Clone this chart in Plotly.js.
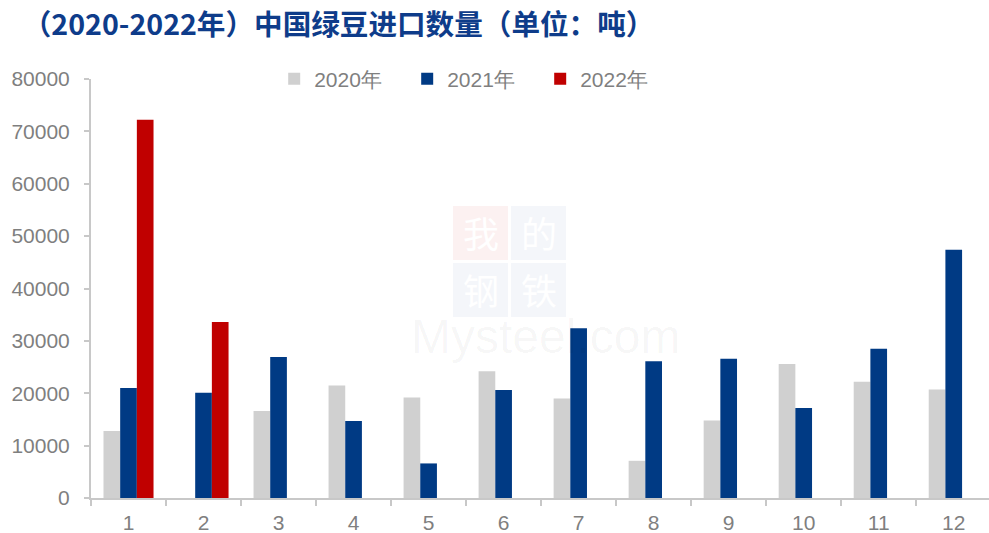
<!DOCTYPE html>
<html>
<head>
<meta charset="utf-8">
<script src="https://cdn.plot.ly/plotly-3.0.1.min.js"></script>
<style>
  html, body { margin: 0; padding: 0; background: #fff; }
  #chart { width: 989px; height: 533px; }
</style>
</head>
<body>
<div id="chart"></div>
<script>
var months = ['1', '2', '3', '4', '5', '6', '7', '8', '9', '10', '11', '12'];
var y2020 = [12800, null, 16600, 21500, 19200, 24200, 19000, 7100, 14800, 25600, 22200, 20700];
var y2021 = [21000, 20100, 26900, 14700, 6600, 20600, 32400, 26100, 26600, 17200, 28500, 47400];
var y2022 = [72200, 33600, null, null, null, null, null, null, null, null, null, null];
var yTicks = [0, 10000, 20000, 30000, 40000, 50000, 60000, 70000, 80000];

var trace2020 = {
    x: months,
    y: y2020,
    type: 'bar',
    name: '2020年',
    marker: { color: '#d0d0d0' }
};
var trace2021 = {
    x: months,
    y: y2021,
    type: 'bar',
    name: '2021年',
    marker: { color: '#003a84' }
};
var trace2022 = {
    x: months,
    y: y2022,
    type: 'bar',
    name: '2022年',
    marker: { color: '#c00000' }
};

var tickFont = { family: 'Liberation Sans, Arial, sans-serif', size: 21, color: '#7f7f7f' };

// watermark helpers (pixel -> paper)
function px(x) { return (x - 91) / 898; }
function py(y) { return (498 - y) / 419; }

function tile(x0, y0, fill) {
    return {
        type: 'rect', layer: 'below',
        xref: 'paper', yref: 'paper',
        x0: px(x0), x1: px(x0 + 55), y0: py(y0 + 54), y1: py(y0),
        line: { width: 0 }, fillcolor: fill
    };
}
function tileText(ch, x0, y0) {
    return {
        text: ch, xref: 'paper', yref: 'paper',
        x: px(x0 + 27.5), y: py(y0 + 26),
        showarrow: false,
        font: { family: 'Noto Sans CJK SC, sans-serif', size: 36, color: '#ffffff' }
    };
}

var layout = {
    width: 989,
    height: 533,
    margin: { l: 91, r: 0, t: 79, b: 35 },
    paper_bgcolor: '#ffffff',
    plot_bgcolor: '#ffffff',
    barmode: 'group',
    bargap: 0.333,
    bargroupgap: 0,
    title: {
        text: '（2020-2022年）中国绿豆进口数量（单位：吨）',
        font: { family: 'Noto Sans CJK SC, sans-serif', size: 28.6, color: '#0e3c8a', weight: 700 },
        xref: 'container',
        yref: 'container',
        x: 0.023,
        xanchor: 'left',
        y: 1 - 25 / 533,
        yanchor: 'middle'
    },
    showlegend: true,
    legend: {
        orientation: 'h',
        x: 0.204,
        xanchor: 'left',
        y: 1.0,
        yanchor: 'middle',
        font: tickFont,
        entrywidth: 88,
        entrywidthmode: 'pixels',
        bgcolor: 'rgba(0,0,0,0)'
    },
    xaxis: {
        type: 'category',
        range: [-0.5, 11.47],
        showline: true,
        linecolor: '#c8c8c8',
        linewidth: 2,
        ticks: 'outside',
        tickson: 'boundaries',
        ticklen: 6,
        tickcolor: '#c8c8c8',
        tickwidth: 2,
        showgrid: false,
        zeroline: false,
        tickfont: tickFont,
        ticklabelstandoff: 5,
        fixedrange: true
    },
    yaxis: {
        range: [0, 80000],
        tickvals: yTicks,
        ticktext: yTicks.map(String),
        showline: true,
        linecolor: '#c8c8c8',
        linewidth: 2,
        ticks: 'outside',
        ticklen: 5,
        tickcolor: '#c8c8c8',
        tickwidth: 2,
        showgrid: false,
        zeroline: false,
        tickfont: tickFont,
        ticklabelstandoff: 10,
        fixedrange: true
    },
    shapes: [
        tile(453, 206, '#fcf1f1'),
        tile(511, 206, '#f4f6fa'),
        tile(453, 263, '#f4f6fa'),
        tile(511, 263, '#f4f6fa')
    ],
    annotations: [
        tileText('我', 453, 206),
        tileText('的', 511, 206),
        tileText('钢', 453, 263),
        tileText('铁', 511, 263),
        {
            text: 'Mysteel.com',
            xref: 'paper', yref: 'paper',
            x: px(545), y: py(336),
            showarrow: false,
            font: { family: 'Liberation Sans, Arial, sans-serif', size: 48, color: 'rgba(0,0,0,0.04)' }
        }
    ]
};

Plotly.newPlot('chart', [trace2020, trace2021, trace2022], layout, { displayModeBar: false, staticPlot: true });
</script>
</body>
</html>
